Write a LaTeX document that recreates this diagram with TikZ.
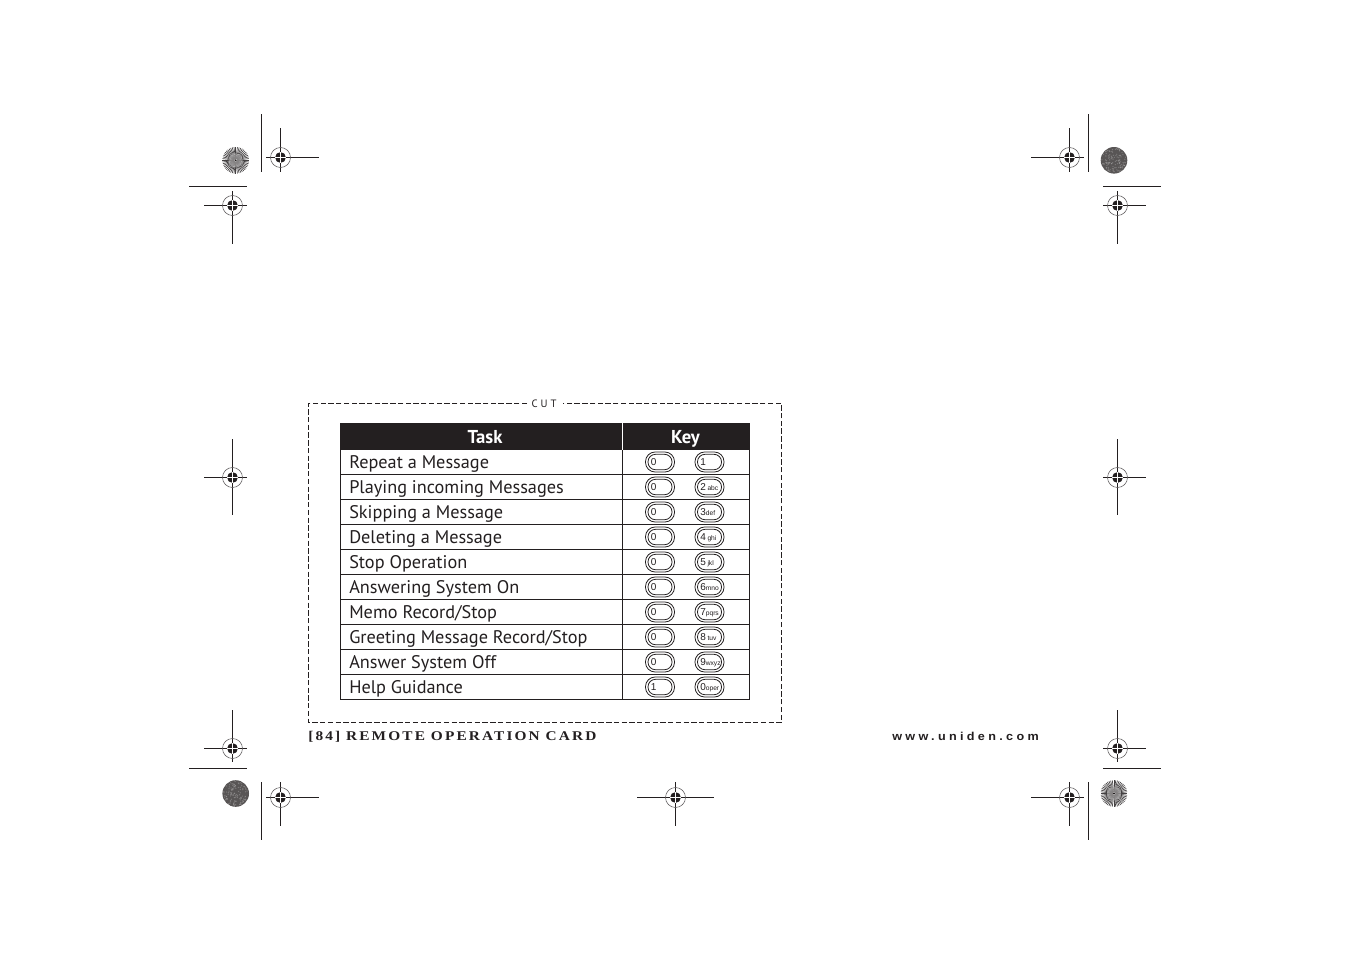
\documentclass[tikz,border=0pt]{standalone}
\usepackage{fontspec}
\setmainfont{PT Sans}
\newfontfamily\tblfont{PT Sans}
\newfontfamily\hdrfont{PT Sans}
\newfontfamily\cutfont[LetterSpace=28]{PT Sans}
\newfontfamily\footfont[LetterSpace=16,FakeStretch=1.15]{Liberation Serif}
\newfontfamily\urlfont[LetterSpace=29,FakeStretch=1.1]{Liberation Sans}
\newfontfamily\keyfont{Liberation Sans}
\definecolor{ink}{HTML}{231F20}
\tikzset{
  x=0.75pt,y=-0.75pt,
  hair/.style={line width=0.72pt,draw=ink},
  rule/.style={line width=0.7pt,draw=ink},
  ringline/.style={line width=0.4pt,draw=ink!75},
  cutline/.style={line width=0.55pt,draw=ink,dash pattern=on 4pt off 1.8pt},
  tasktext/.style={anchor=base west,inner sep=0pt,text=ink,font=\fontsize{13.7pt}{14pt}\tblfont},
  headtext/.style={anchor=base,inner sep=0pt,text=white,font=\fontsize{14pt}{15pt}\hdrfont\bfseries},
  keyface/.style={line width=0.6pt,draw=ink,fill=white},
}
\newcommand{\regmark}[7]{% x y hleft hright vtop vbottom name
  \draw[hair] (#3,#2+.5) -- (#4,#2+.5);
  \draw[hair] (#1,#5) -- (#1,#6);
  \draw[ringline] (#1,#2+.5) circle (10);
  \fill[ink] (#1,#2+.5) circle (5.4);
  \draw[white,line width=0.25pt] (#1-5.4,#2+.5) -- (#1+5.4,#2+.5) (#1,#2-4.9) -- (#1,#2+5.9);
}
\newcommand{\burst}[2]{%
  \fill[white] (#1,#2) circle (13.3);
  \foreach \a in {0,7.5,...,352.5}{
    \draw[ink!85,line width=0.5pt] (#1,#2) ++(\a:1.5) -- ++(\a:11.8);
  }
  \fill[white,opacity=.35] (#1,#2) circle (7);
  \fill[ink] (#1,#2) circle (1.1);
}
\pgfmathsetseed{7}
\newcommand{\speckle}[2]{%
  \fill[ink!76] (#1,#2) circle (13.3);
  \foreach \i in {1,...,110}{
    \pgfmathsetmacro{\ra}{360*rnd}
    \pgfmathsetmacro{\rr}{12.3*sqrt(rnd)}
    \fill[white,opacity=.22] (#1,#2) ++(\ra:\rr) circle (0.7);
  }
}
\newcommand{\keypad}[3]{% x y content
  \draw[keyface,rounded corners=7.2pt] (#1-14.5,#2-10) rectangle (#1+14.5,#2+10);
  \draw[keyface,rounded corners=5.6pt] (#1-12,#2-7.7) rectangle (#1+12,#2+7.7);
  \node[anchor=base west,inner sep=0pt,text=ink,font=\fontsize{7.5pt}{7.5pt}\keyfont] at (#1-9.5,#2+3.5) {#3};
}
\begin{document}
\begin{tikzpicture}
\useasboundingbox (0,0) rectangle (1351,954);
\fill[white] (0,0) rectangle (1351,954);

% registration marks
\regmark{280.5}{157}{266}{319}{128}{172}{a}
\regmark{232.5}{205}{204}{247}{191}{243.5}{b}
\regmark{1069.5}{157}{1031}{1084}{128}{172}{c}
\regmark{1117.5}{205}{1103}{1146}{191}{243.5}{d}
\regmark{232.5}{477}{204}{247}{439}{515}{e}
\regmark{1117.5}{477}{1103}{1146}{439}{515}{f}
\regmark{232.5}{748}{204}{247}{710}{762}{g}
\regmark{1117.5}{748}{1103}{1146}{710}{762}{h}
\regmark{280.5}{797}{266}{319}{782}{826}{i}
\regmark{675.5}{797}{637}{714}{782}{826}{j}
\regmark{1069.5}{797}{1031}{1084}{782}{826}{k}

% crop bars
\draw[hair] (261.5,114) -- (261.5,172);
\draw[hair] (189,186.5) -- (247,186.5);
\draw[hair] (1088.5,114) -- (1088.5,172);
\draw[hair] (1103,186.5) -- (1161,186.5);
\draw[hair] (189,768.5) -- (247,768.5);
\draw[hair] (261.5,782) -- (261.5,839.5);
\draw[hair] (1103,768.5) -- (1161,768.5);
\draw[hair] (1088.5,782) -- (1088.5,839.5);

% discs
\burst{235.7}{160.3}
\speckle{1114}{160.3}
\speckle{235.7}{793.5}
\burst{1114}{793.5}

% cut frame
\draw[cutline] (527,403.5) -- (308.5,403.5) -- (308.5,722.5) -- (781.5,722.5) -- (781.5,403.5) -- (563,403.5);
\node[anchor=base,inner sep=0pt,text=ink,font=\fontsize{8pt}{8pt}\cutfont] (cut) at (544,407.5) {CUT};

% table header
\fill[ink] (340,423) rectangle (750,450);
\draw[white,line width=0.8pt] (622.5,423) -- (622.5,450);
\node[headtext] (task) at (485,443) {Task};
\node[headtext] (key) at (685.5,443) {Key};

% table frame and rules
\foreach \y in {474.5,499.5,...,674.5}{\draw[rule] (340,\y) -- (750,\y);}
\draw[line width=1.2pt,draw=ink] (340,699.3) -- (750,699.3);
\draw[rule] (340.5,450) -- (340.5,700);
\draw[rule] (622.5,450) -- (622.5,700);
\draw[rule] (749.5,450) -- (749.5,700);

% rows
\node[tasktext] at (349,468) {Repeat a Message};
\node[tasktext] at (349,493) {Playing incoming Messages};
\node[tasktext] at (349,518) {Skipping a Message};
\node[tasktext] at (349,543) {Deleting a Message};
\node[tasktext] at (349,568) {Stop Operation};
\node[tasktext] at (349,593) {Answering System On};
\node[tasktext] at (349,618) {Memo Record/Stop};
\node[tasktext] at (349,643) {Greeting Message Record/Stop};
\node[tasktext] at (349,668) {Answer System Off};
\node[tasktext] at (349,693) {Help Guidance};

% keys
\newcommand{\sml}[1]{{\fontsize{5pt}{5pt}\keyfont #1}}
\foreach \y/\l/\r in {462/0/1,487/0/2\,\sml{abc},512/0/3\sml{def},537/0/4\,\sml{ghi},562/0/5\,\sml{jkl},587/0/6\sml{mno},612/0/7\sml{pqrs},637/0/8\,\sml{tuv},662/0/9\sml{wxyz},687/1/0\sml{oper}}{
  \keypad{660}{\y}{\l}
  \keypad{709.5}{\y}{\r}
}

% footer
\node[anchor=base west,inner sep=0pt,text=ink,font=\fontsize{10pt}{10pt}\footfont\bfseries] (foot) at (308,740) {[84] REMOTE OPERATION CARD};
\node[anchor=base west,inner sep=0pt,text=ink,font=\fontsize{8.6pt}{9pt}\urlfont\bfseries] (url) at (892,740) {www.uniden.com};
\end{tikzpicture}
\end{document}
